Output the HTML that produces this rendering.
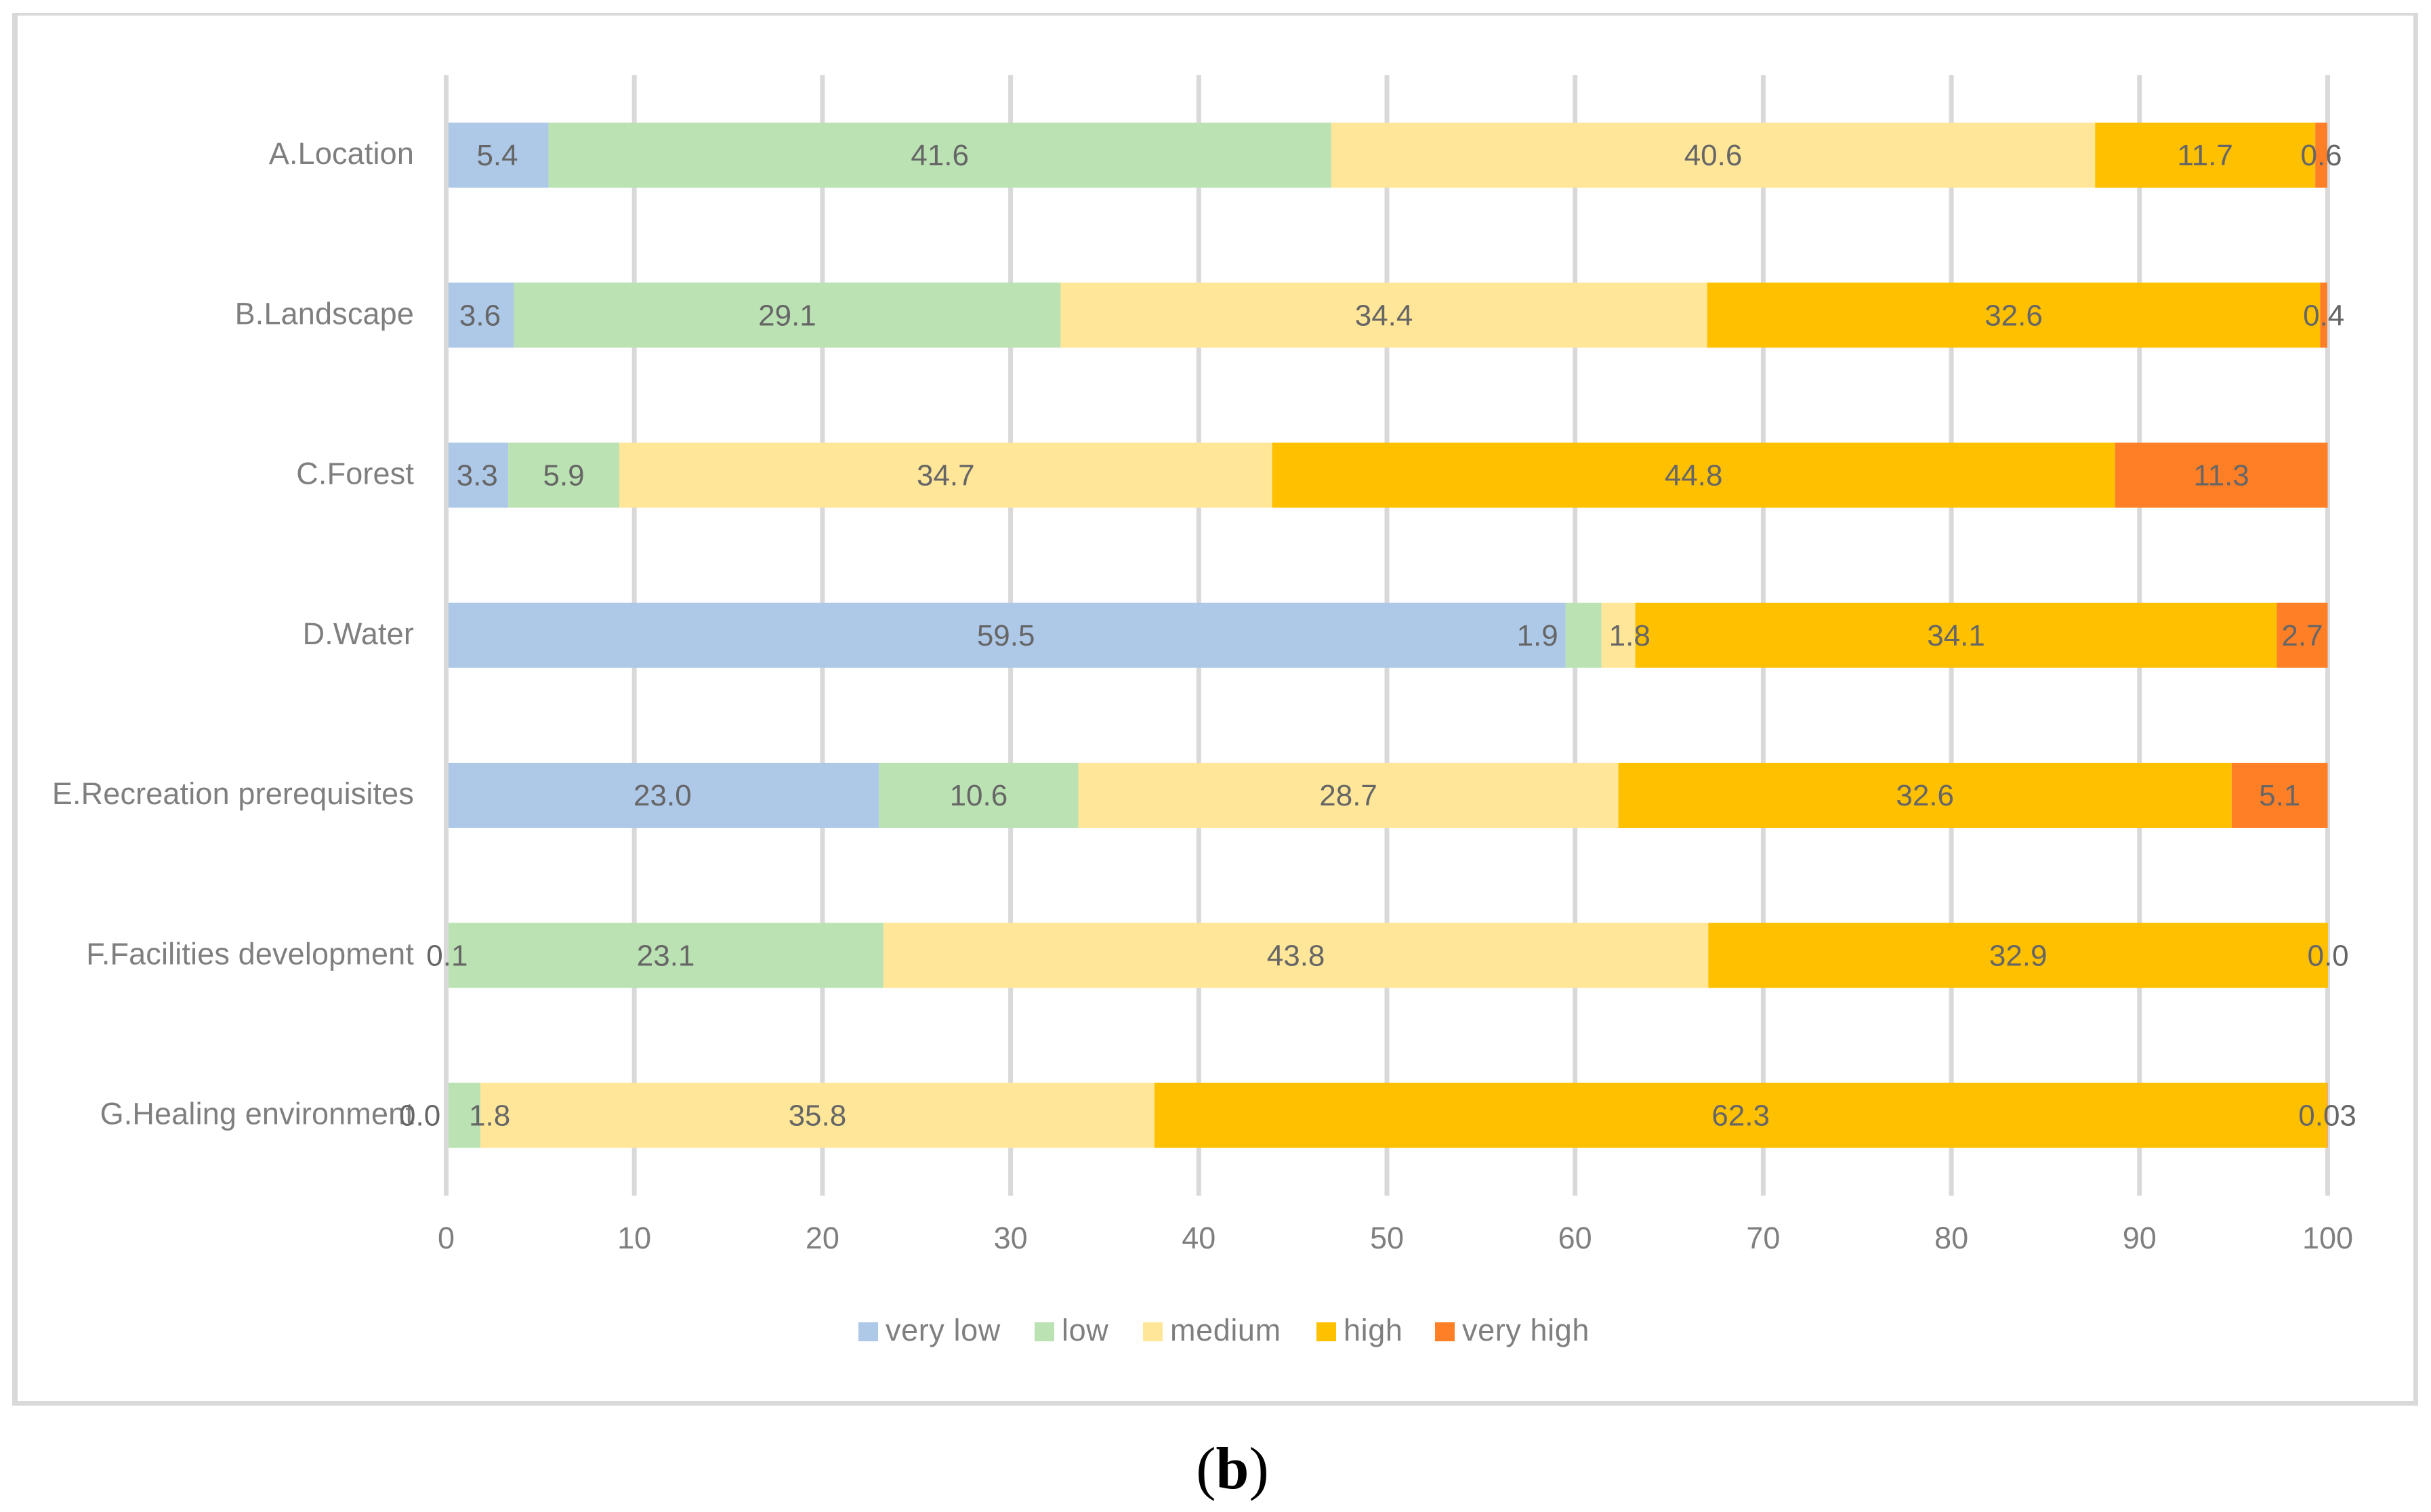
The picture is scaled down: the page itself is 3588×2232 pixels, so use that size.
<!DOCTYPE html>
<html lang="en">
<head>
<meta charset="utf-8">
<title>Stacked bar chart (b)</title>
<style>
html,body{margin:0;padding:0;background:#fff;}
svg{display:block;}
text{font-family:"Liberation Sans",sans-serif;}
</style>
</head>
<body>
<svg id="chart" xmlns="http://www.w3.org/2000/svg" width="3588" height="2232" viewBox="0 0 3588 2232">
  <rect x="0" y="0" width="3588" height="2232" fill="#ffffff"/>
  <g fill="#d9d9d9">
    <rect x="18" y="19" width="3551" height="4"/>
    <rect x="18" y="2068" width="3551" height="7"/>
    <rect x="18" y="19" width="8" height="2056"/>
    <rect x="3562" y="19" width="7" height="2056"/>
  </g>
  <text x="1819" y="2197" text-anchor="middle" font-size="88" fill="#000" style="font-family:'Liberation Serif',serif">(<tspan font-weight="bold">b</tspan>)</text>
</svg>
<script>
const categories = ['A.Location','B.Landscape','C.Forest','D.Water','E.Recreation prerequisites','F.Facilities development','G.Healing environment'];
const seriesNames = ['very low','low','medium','high','very high'];
const veryLow = [5.44,3.6,3.3,59.5,23.0,0.1,0];
const low = [41.6,29.06,5.9,1.9,10.6,23.14,1.82];
const medium = [40.6,34.36,34.7,1.8,28.7,43.84,35.82];
const high = [11.7,32.58,44.8,34.1,32.6,32.94,62.33];
const veryHigh = [0.64,0.38,11.3,2.7,5.1,0,0.03];
const xTicks = [0,10,20,30,40,50,60,70,80,90,100];

const allSeries = [veryLow, low, medium, high, veryHigh];
const colors = ['#aec8e8','#bbe2b3','#ffe699','#ffc000','#ff7f27'];

const NS = 'http://www.w3.org/2000/svg';
const svg = document.getElementById('chart');

function xScale(v){ return 658.5 + 27.77 * v; }
function bandTop(i){ return 181 + 236.25 * i; }
const barHeight = 96;

function make(tag, attrs, parent){
  const el = document.createElementNS(NS, tag);
  for (const k in attrs) el.setAttribute(k, attrs[k]);
  (parent || svg).appendChild(el);
  return el;
}
function formatValue(v){
  const s = v.toFixed(1);
  return (v > 0 && s === '0.0') ? v.toFixed(2) : s;
}
function labelShift(catIndex, serIndex){
  if (catIndex === 3 && serIndex === 1) return -2.45;
  if (catIndex === 3 && serIndex === 2) return 0.6;
  if (catIndex === 6 && serIndex === 0) return -1.4;
  if (catIndex === 6 && serIndex === 1) return 1.4;
  return 0;
}

xTicks.forEach(function(t){
  const g = make('rect', {x: xScale(t) - 3.5, y: 111, width: 7, height: 1654, fill: '#d9d9d9'});
  
  
  const lab = make('text', {x: xScale(t), y: 1843, 'text-anchor': 'middle', 'font-size': 45, fill: '#7f7f7f'});
  
  
  lab.textContent = t;
});

categories.forEach(function(c, i){
  let acc = 0;
  allSeries.forEach(function(series, s){
    const v = series[i];
    const r = make('rect', {x: xScale(acc), y: bandTop(i), width: xScale(acc + v) - xScale(acc), height: barHeight, fill: colors[s]});
    
    
    acc += v;
  });
});

const zeroAxis = make('rect', {x: xScale(0) - 3.5, y: 111, width: 7, height: 1654, fill: '#d9d9d9'});



categories.forEach(function(c, i){
  const lab = make('text', {x: 611, y: bandTop(i) + 61, 'text-anchor': 'end', 'font-size': 45, fill: '#7f7f7f', 'letter-spacing': '0.15'});
  
  
  lab.textContent = c;
});

categories.forEach(function(c, i){
  let acc = 0;
  allSeries.forEach(function(series, s){
    const v = series[i];
    const mid = acc + v / 2 + labelShift(i, s);
    const t = make('text', {x: xScale(mid), y: bandTop(i) + 63, 'text-anchor': 'middle', 'font-size': 44, fill: '#666666'});
    
    
    t.textContent = formatValue(v);
    acc += v;
  });
});

const legendSwatchX = [1267,1527,1687,1943,2118];
seriesNames.forEach(function(n, s){
  const g = make('g', {});
  
  
  const sw = make('rect', {x: legendSwatchX[s], y: 1952, width: 29, height: 28, fill: colors[s]}, g);
  
  
  const t = make('text', {x: legendSwatchX[s] + 40, y: 1979, 'font-size': 45, fill: '#7f7f7f', 'letter-spacing': '0.6'}, g);
  
  
  t.textContent = n;
});
</script>
</body>
</html>
